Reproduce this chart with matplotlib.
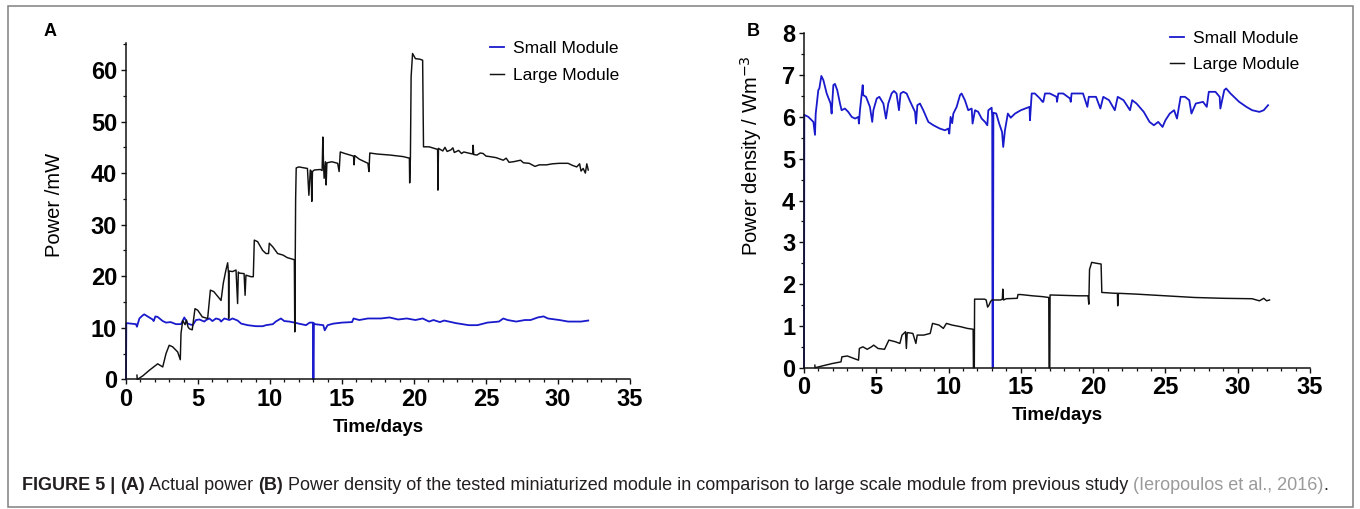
import matplotlib
matplotlib.use("Agg")
import matplotlib.pyplot as plt
from matplotlib.patches import Rectangle
from matplotlib.ticker import MultipleLocator

plt.rcParams["font.family"] = ["Liberation Sans", "DejaVu Sans"]

# ---- data (time in days) ----
# panel A, small module, power / mW
a_small_t = [0.0, 0.02, 0.35, 0.69, 0.76, 0.93, 1.16, 1.27, 1.5, 1.85, 1.92, 2.04, 2.2, 2.55,
             2.78, 3.1, 3.47, 3.82, 4.05, 4.28, 4.63, 4.86, 5.1, 5.44, 5.56, 5.79, 6.0, 6.25,
             6.5, 6.6, 6.83, 7.18, 7.4, 7.75, 8.0, 8.45, 9.03, 9.5, 9.72, 10.2, 10.4, 10.76,
             10.99, 11.34, 11.7, 12.0, 12.5, 12.75, 12.98, 13.0, 13.03, 13.05, 13.1, 13.7,
             13.8, 14.0, 14.4, 15.0, 15.7, 15.8, 16.2, 16.8, 17.7, 18.3, 18.9, 19.5, 20.1,
             20.6, 21.05, 21.35, 21.8, 22.1, 22.9, 23.8, 24.4, 25.1, 25.9, 26.2, 26.5, 27.1,
             27.7, 28.1, 28.6, 29.0, 29.3, 30.1, 30.7, 31.6, 32.1]
a_small_p = [0.0, 10.9, 10.8, 10.7, 10.2, 11.8, 12.4, 12.6, 12.2, 11.6, 11.3, 12.2, 12.1, 11.3,
             11.0, 11.1, 10.7, 10.7, 12.0, 10.8, 10.5, 11.5, 11.6, 11.2, 11.5, 11.8, 11.3, 11.8,
             11.6, 11.2, 11.8, 11.5, 11.8, 11.4, 10.8, 10.5, 10.3, 10.3, 10.5, 10.7, 11.2, 11.8,
             11.3, 11.2, 11.0, 10.8, 10.5, 11.0, 11.0, 0.0, 0.0, 10.9, 10.7, 10.5,
             9.5, 10.5, 10.8, 11.0, 11.1, 11.8, 11.5, 11.8, 11.8, 12.0, 11.6, 11.8, 11.5,
             11.8, 11.2, 11.5, 11.1, 11.4, 10.9, 10.5, 10.5, 11.0, 11.2, 11.8, 11.5, 11.2,
             11.5, 11.5, 12.0, 12.2, 11.8, 11.5, 11.2, 11.2, 11.4]

# panel A, large module, power / mW
a_large_t = [0.76, 0.78, 0.8, 1.16, 1.62, 2.2, 2.55, 2.78, 3.0, 3.24, 3.59, 3.77, 3.82, 3.94,
             4.1, 4.2, 4.3, 4.4, 4.6, 4.79, 4.98, 5.3, 5.67, 5.86, 6.1, 6.6, 6.76, 6.94, 7.06,
             7.12, 7.13, 7.15, 7.4, 7.64, 7.75, 7.8, 7.87, 8.2, 8.27, 8.33, 8.68, 8.84, 8.91,
             9.14, 9.49, 9.72, 9.9, 9.95, 10.19, 10.53, 10.9, 11.2, 11.69, 11.72, 11.78, 11.82,
             12.0, 12.6, 12.7, 12.8, 12.86, 12.9, 12.95, 13.07, 13.5, 13.62, 13.67, 13.72,
             13.76, 13.85, 13.9, 13.95, 14.3, 14.7, 14.8, 14.88, 15.2, 15.8, 15.84, 15.88,
             16.2, 16.8, 16.87, 16.93, 17.44, 18.34, 19.25, 19.68, 19.7, 19.75, 19.8, 19.9,
             20.1, 20.4, 20.6, 20.66, 21.05, 21.64, 21.66, 21.7, 22.0, 22.15, 22.3, 22.56,
             22.7, 22.8, 23.1, 23.3, 23.46, 24.07, 24.1, 24.15, 24.37, 24.6, 24.8, 25.0,
             25.27, 25.7, 26.2, 26.4, 26.6, 26.9, 27.4, 27.6, 28.0, 28.4, 28.7, 29.2, 29.6,
             30.1, 30.7, 31.0, 31.3, 31.5, 31.6, 31.75, 31.9, 32.0, 32.1]
a_large_p = [0.8, 0.0, 0.0, 0.65, 1.75, 3.0, 2.4, 5.0, 6.6, 6.3, 5.3, 3.8, 8.9, 11.4,
             10.6, 11.5, 10.2, 9.8, 9.6, 13.7, 13.4, 12.1, 11.8, 17.3, 17.0, 15.3, 18.7, 21.2, 22.6,
             20.5, 11.8, 21.0, 20.9, 21.2, 14.7, 20.8, 20.6, 20.5, 16.3, 20.2, 19.9, 19.9, 27.0,
             26.7, 25.0, 24.4, 24.4, 26.4, 25.7, 24.4, 24.1, 23.6, 23.2, 9.2, 35.0, 41.0,
             41.2, 40.9, 35.7, 40.6, 40.4, 34.5, 40.3, 40.6, 40.7, 40.5, 47.0, 41.5,
             39.0, 42.2, 37.7, 42.0, 42.2, 41.9, 40.3, 44.1, 43.8, 43.3, 41.6, 43.4,
             42.7, 41.9, 40.3, 43.9, 43.7, 43.5, 43.2, 42.9, 38.1, 42.9, 58.7, 63.2,
             62.2, 62.1, 61.9, 45.1, 45.1, 44.6, 36.7, 44.8, 44.3, 45.0, 44.2, 44.5,
             44.9, 44.0, 44.4, 43.8, 44.1, 43.7, 45.4, 43.6, 43.5, 43.9, 43.8, 43.3,
             43.2, 43.0, 42.5, 42.9, 42.1, 42.2, 42.5, 42.0, 41.9, 41.3, 41.6, 41.6, 41.8,
             41.9, 41.9, 41.5, 41.2, 41.8, 40.4, 40.9, 40.0, 41.8, 40.6]

# panel B, small module, power density / W m^-3
b_small_t = [0.0, 0.02, 0.3, 0.65, 0.76, 0.81, 0.99, 1.06, 1.2, 1.34, 1.57, 1.84, 1.91, 2.03,
             2.14, 2.3, 2.49, 2.6, 2.83, 3.06, 3.3, 3.53, 3.76, 3.8, 3.87, 4.06, 4.1, 4.29,
             4.56, 4.72, 4.8, 5.03, 5.21, 5.49, 5.67, 5.83, 6.06, 6.22, 6.4, 6.57, 6.68, 6.87,
             7.1, 7.3, 7.68, 7.75, 7.84, 8.02, 8.25, 8.6, 8.95, 9.4, 9.75, 9.98, 10.05, 10.14,
             10.25, 10.33, 10.56, 10.79, 10.9, 11.13, 11.36, 11.6, 11.66, 11.83, 12.05, 12.29,
             12.52, 12.68, 12.75, 12.98, 13.02, 13.04, 13.07, 13.1, 13.3, 13.5, 13.7, 13.78,
             13.9, 14.1, 14.3, 14.6, 15.0, 15.6, 15.63, 15.75, 15.97, 16.32, 16.5, 16.55, 16.67,
             17.01, 17.47, 17.5, 17.59, 17.93, 18.4, 18.45, 18.51, 18.97, 19.3, 19.6, 19.7,
             20.2, 20.5, 20.7, 21.1, 21.5, 21.7, 22.1, 22.55, 22.7, 23.0, 23.5, 23.9, 24.2,
             24.5, 24.8, 25.0, 25.3, 25.6, 25.8, 26.05, 26.35, 26.65, 26.8, 27.1, 27.6,
             27.86, 28.0, 28.46, 28.75, 28.8, 29.07, 29.2, 29.5, 30.1, 30.6, 31.0, 31.5,
             31.8, 32.1]
b_small_d = [0.0, 6.05, 6.0, 5.88, 5.57, 6.08, 6.64, 6.68, 6.98, 6.88, 6.56, 6.32, 6.08, 6.76,
             6.79, 6.64, 6.32, 6.16, 6.2, 6.12, 6.0, 5.96, 6.0, 5.84, 6.16, 6.76, 6.52, 6.48,
             6.24, 5.88, 6.16, 6.44, 6.48, 6.32, 5.96, 6.32, 6.56, 6.62, 6.56, 6.16, 6.56, 6.6,
             6.56, 6.4, 6.12, 5.84, 6.28, 6.32, 6.16, 5.88, 5.8, 5.72, 5.68, 5.72, 5.6, 6.0,
             5.85, 6.08, 6.24, 6.52, 6.56, 6.4, 6.16, 6.2, 5.84, 6.16, 6.12, 5.96,
             5.88, 5.8, 6.16, 6.22, 6.0, 0.0, 0.0, 6.1, 6.08, 5.84, 5.64, 5.28,
             5.68, 6.08, 5.98, 6.08, 6.16, 6.24, 5.92, 6.56, 6.56, 6.44, 6.36, 6.36, 6.56,
             6.56, 6.48, 6.36, 6.56, 6.56, 6.44, 6.36, 6.56, 6.56, 6.56, 6.24, 6.48,
             6.48, 6.2, 6.48, 6.4, 6.16, 6.48, 6.4, 6.16, 6.4, 6.32, 6.12, 5.88, 5.8,
             5.88, 5.76, 5.92, 6.08, 6.16, 5.96, 6.48, 6.48, 6.4, 6.08, 6.32, 6.36,
             6.24, 6.6, 6.6, 6.48, 6.2, 6.64, 6.68, 6.56, 6.36, 6.24, 6.16, 6.12,
             6.16, 6.28]

# panel B, large module, power density / W m^-3
b_large_t = [0.75, 0.76, 0.78, 1.36, 1.96, 2.56, 2.62, 3.0, 3.46, 3.77, 3.83, 4.07, 4.37,
             4.67, 4.82, 5.12, 5.57, 5.87, 6.33, 6.63, 6.78, 7.02, 7.08, 7.14, 7.53, 7.74,
             7.83, 8.28, 8.73, 8.89, 9.34, 9.64, 9.85, 10.24, 10.84, 11.3, 11.7, 11.72, 11.78,
             11.8, 12.5, 12.6, 12.7, 12.8, 12.9, 13.0, 13.6, 13.72, 13.75, 13.8, 14.0, 14.75,
             14.8, 15.0, 15.8, 16.5, 16.93, 16.95, 17.0, 17.02, 18.0, 19.0, 19.65, 19.7,
             19.75, 19.9, 20.2, 20.55, 20.6, 21.5, 21.68, 21.7, 21.75, 23.0, 25.0, 27.0,
             29.0, 31.0, 31.5, 31.8, 32.0, 32.2]
b_large_d = [0.06, 0.0, 0.0, 0.05, 0.1, 0.14, 0.26, 0.28, 0.22, 0.18, 0.46, 0.5, 0.44,
             0.5, 0.54, 0.46, 0.44, 0.66, 0.62, 0.58, 0.78, 0.86, 0.46, 0.84, 0.82, 0.58,
             0.78, 0.78, 0.82, 1.06, 1.02, 0.94, 1.06, 1.02, 0.98, 0.94, 0.92, 0.0, 0.0,
             1.64, 1.64, 1.62, 1.45, 1.5, 1.58, 1.62, 1.62, 1.64, 1.88, 1.62, 1.65, 1.66,
             1.75, 1.75, 1.72, 1.7, 1.68, 0.0, 0.0, 1.74, 1.73, 1.72, 1.72, 1.52,
             2.35, 2.52, 2.5, 2.48, 1.8, 1.78, 1.78, 1.48, 1.78, 1.76, 1.72, 1.68,
             1.66, 1.65, 1.6, 1.66, 1.6, 1.62]

legend_labels = ["Small Module", "Large Module"]
x_ticks = [0, 5, 10, 15, 20, 25, 30, 35]

BLUE = "#1a1acd"
BLACK = "#111111"
W, H = 1360, 509

fig = plt.figure(figsize=(W / 100, H / 100), dpi=100)
fig.patch.set_facecolor("white")


def fx(px):
    return px / W


def fy(py):
    return (H - py) / H


def style_axis(ax, ymax, ymajor, yminor):
    for side in ("top", "right"):
        ax.spines[side].set_visible(False)
    for side in ("left", "bottom"):
        ax.spines[side].set_linewidth(1.1)
        ax.spines[side].set_color("#111111")
    ax.set_xlim(0, 35)
    ax.set_ylim(0, ymax)
    ax.set_xticks(x_ticks)
    ax.xaxis.set_minor_locator(MultipleLocator(1))
    ax.yaxis.set_major_locator(MultipleLocator(ymajor))
    ax.yaxis.set_minor_locator(MultipleLocator(yminor))
    ax.tick_params(which="major", direction="out", length=3.8, width=1.0, pad=2.5,
                   labelsize=17, color="#111111")
    ax.tick_params(which="minor", direction="out", length=2.4, width=0.9, color="#111111")
    for lab in ax.get_xticklabels() + ax.get_yticklabels():
        lab.set_fontweight("bold")
    ax.patch.set_alpha(0)


# ---- panel A ----
axA = fig.add_axes([fx(126), fy(379.3), (630 - 126) / W, (379.3 - 43.2) / H])
axA.plot(a_small_t, a_small_p, color=BLUE, lw=1.3, label=legend_labels[0], clip_on=False)
axA.plot(a_large_t, a_large_p, color=BLACK, lw=1.05, label=legend_labels[1], clip_on=False)
style_axis(axA, 65.2, 10, 5)
axA.set_yticks([0, 10, 20, 30, 40, 50, 60])
axA.legend(loc="upper left", bbox_to_anchor=(0.722, 1.007), frameon=False, fontsize=12.5,
           handlelength=0.8, handletextpad=0.55, labelspacing=0.71, borderpad=0,
           borderaxespad=0)

# ---- panel B ----
axB = fig.add_axes([fx(804), fy(367.7), (1310 - 804) / W, (367.7 - 33.3) / H])
axB.plot(b_small_t, b_small_d, color=BLUE, lw=1.3, label=legend_labels[0], clip_on=False)
axB.plot(b_large_t, b_large_d, color=BLACK, lw=1.05, label=legend_labels[1], clip_on=False)
style_axis(axB, 8, 1, 0.5)
axB.legend(loc="upper left", bbox_to_anchor=(0.723, 1.006), frameon=False, fontsize=12.5,
           handlelength=0.8, handletextpad=0.55, labelspacing=0.62, borderpad=0,
           borderaxespad=0)

# axis labels and panel letters
fig.text(fx(55), fy(205), "Power /mW", rotation=90, ha="center", va="center", fontsize=14.5)
fig.text(fx(751), fy(156), "Power density / Wm$^{-3}$", rotation=90, ha="center",
         va="center", fontsize=14.5)
fig.text(fx(378), fy(427), "Time/days", ha="center", va="center", fontsize=13.5,
         fontweight="bold")
fig.text(fx(1057), fy(415), "Time/days", ha="center", va="center", fontsize=13.5,
         fontweight="bold")
fig.text(fx(50), fy(31), "A", ha="center", va="center", fontsize=13, fontweight="bold")
fig.text(fx(753), fy(31), "B", ha="center", va="center", fontsize=13, fontweight="bold")

# ---- frame and caption ----
fig.add_artist(Rectangle((fx(8), fy(507)), (1353 - 8) / W, (507 - 6) / H,
                         transform=fig.transFigure, fill=False, edgecolor="#808080",
                         linewidth=1.1))

cap = fig.add_axes([0, 0, 1, 1], zorder=-1)
cap.axis("off")
cap.set_xlim(0, 1)
cap.set_ylim(0, 1)
TXT = "#231f20"
CAP_SIZE = 13.0
pieces = [
    ("FIGURE 5 | ", "bold", TXT),
    ("(A)", "bold", TXT),
    (" Actual power ", "normal", TXT),
    ("(B)", "bold", TXT),
    (" Power density of the tested miniaturized module in comparison to large scale "
     "module from previous study ", "normal", TXT),
    ("(Ieropoulos et al., 2016)", "normal", "#9a9a9a"),
    (".", "normal", TXT),
]
prev = None
for s, w, c in pieces:
    if prev is None:
        prev = cap.text(fx(22), fy(490), s, ha="left", va="baseline", fontsize=CAP_SIZE,
                        fontweight=w, color=c)
    else:
        prev = cap.annotate(s, xy=(1, 0), xycoords=prev, ha="left", va="bottom",
                            fontsize=CAP_SIZE, fontweight=w, color=c)

fig.savefig("out.png", dpi=100)
